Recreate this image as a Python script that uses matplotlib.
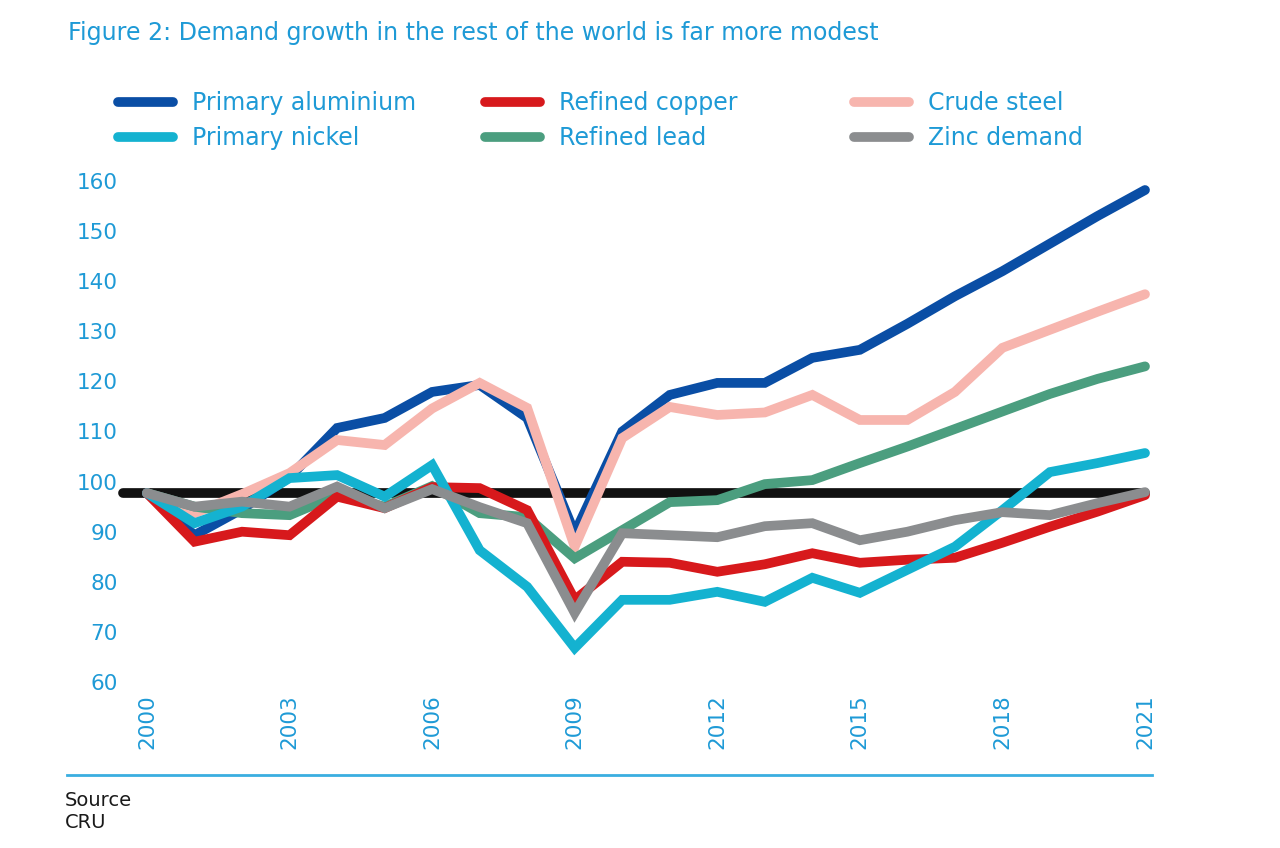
import matplotlib
matplotlib.use("Agg")
import matplotlib.pyplot as plt
from matplotlib.lines import Line2D

years = list(range(2000, 2022))

aluminium = [97.7, 89.3, 94.5, 100.9, 110.7, 112.7, 117.9, 119.3, 112.7, 89.7, 110.0,
             117.3, 119.7, 119.7, 124.7, 126.3, 131.5, 137.0, 142.0, 147.5, 153.0, 158.2]
copper = [97.7, 88.0, 90.0, 89.3, 97.0, 94.7, 98.9, 98.7, 94.3, 76.4, 84.0,
          83.8, 82.0, 83.5, 85.7, 83.8, 84.4, 84.8, 87.8, 91.0, 94.0, 97.3]
steel = [97.7, 93.7, 97.5, 101.7, 108.3, 107.3, 114.6, 119.7, 114.7, 87.0, 108.7,
         114.9, 113.3, 113.8, 117.3, 112.3, 112.3, 117.9, 126.7, 130.3, 133.9, 137.4]
nickel = [97.7, 91.7, 95.0, 100.7, 101.3, 97.0, 103.3, 86.3, 79.0, 66.8, 76.4,
          76.4, 78.0, 76.0, 80.8, 77.8, 82.4, 87.0, 94.3, 101.9, 103.7, 105.7]
lead = [97.7, 95.0, 93.7, 93.3, 97.3, 95.0, 99.1, 93.7, 92.9, 84.7, 90.3,
        95.9, 96.3, 99.5, 100.3, 103.7, 107.0, 110.5, 114.0, 117.5, 120.5, 123.0]
zinc = [97.7, 95.0, 96.0, 95.0, 99.0, 94.7, 98.5, 94.9, 91.7, 73.8, 89.7,
        89.3, 88.9, 91.1, 91.7, 88.3, 90.0, 92.3, 93.9, 93.3, 95.7, 97.9]
base_years = [1999.5, 2021]
base = [97.7, 97.7]

xticks = [2000, 2003, 2006, 2009, 2012, 2015, 2018, 2021]
yticks = [60, 70, 80, 90, 100, 110, 120, 130, 140, 150, 160]

blue_txt = "#1e9ad6"
colors = {
    "Primary aluminium": "#0a4ea5",
    "Refined copper": "#d7191c",
    "Crude steel": "#f7b5ae",
    "Primary nickel": "#14b2d0",
    "Refined lead": "#4b9e7f",
    "Zinc demand": "#8b8d8f",
}

plt.rcParams["font.family"] = ["DejaVu Sans"]
fig = plt.figure(figsize=(12.8, 8.48), dpi=100)
ax = fig.add_axes([147 / 1280, 1 - 682 / 848, 998 / 1280, 501 / 848])

lw = 7
ax.plot(base_years, base, color="#111111", lw=lw, solid_capstyle="round", clip_on=False, zorder=2)
data = {
    "Primary aluminium": aluminium,
    "Refined copper": copper,
    "Crude steel": steel,
    "Primary nickel": nickel,
    "Refined lead": lead,
    "Zinc demand": zinc,
}
draw_order = ["Primary aluminium", "Crude steel", "Refined lead", "Refined copper", "Primary nickel", "Zinc demand"]
for i, name in enumerate(draw_order):
    ax.plot(years, data[name], color=colors[name], lw=lw, solid_capstyle="round",
            solid_joinstyle="miter", clip_on=False, zorder=3 + i)

ax.set_xlim(2000, 2021)
ax.set_ylim(60, 160)
ax.set_xticks(xticks)
ax.set_yticks(yticks)
ax.set_xticklabels([str(t) for t in xticks], rotation=90, va="top")
ax.tick_params(axis="both", length=0, labelsize=15.5, labelcolor=blue_txt)
ax.tick_params(axis="y", pad=21)
ax.tick_params(axis="x", pad=9)
for s in ax.spines.values():
    s.set_visible(False)

# legend, three columns of two
cols = [
    (["Primary aluminium", "Primary nickel"], 118),
    (["Refined copper", "Refined lead"], 485),
    (["Crude steel", "Zinc demand"], 854),
]
for names, xpx in cols:
    handles = [Line2D([], [], color=colors[n], lw=lw, solid_capstyle="round") for n in names]
    leg = fig.legend(handles, names, loc="upper left", bbox_to_anchor=(xpx / 1280, 1 - 91 / 848),
                     frameon=False, fontsize=17, handlelength=2.33, handletextpad=0.8,
                     labelspacing=0.47, borderpad=0, borderaxespad=0)
    for t in leg.get_texts():
        t.set_color(blue_txt)

fig.text(68 / 1280, 1 - 33 / 848, "Figure 2: Demand growth in the rest of the world is far more modest",
         color=blue_txt, fontsize=17.1, va="center", ha="left")

fig.add_artist(Line2D([67 / 1280, 1152 / 1280], [1 - 775 / 848, 1 - 775 / 848], color="#3aaee0", lw=2))
fig.text(65 / 1280, 1 - 801 / 848, "Source", fontsize=14, va="center", color="#1a1a1a")
fig.text(65 / 1280, 1 - 823 / 848, "CRU", fontsize=14, va="center", color="#1a1a1a")

fig.savefig("out.png", dpi=100)
